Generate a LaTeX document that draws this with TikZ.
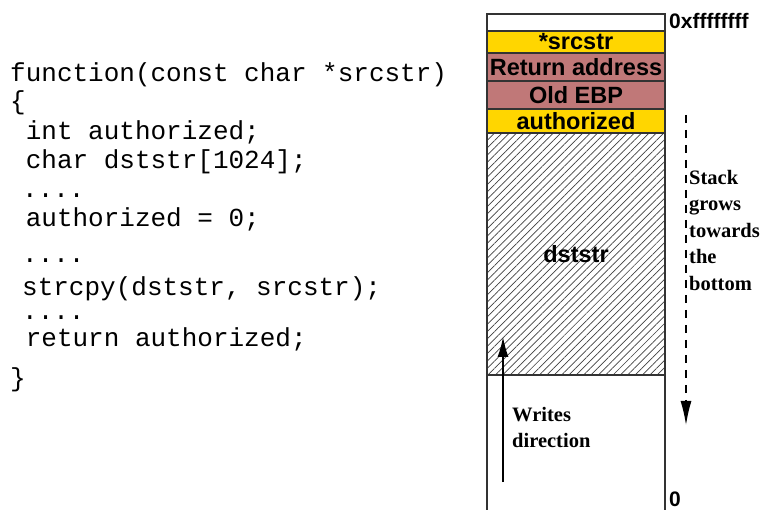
\documentclass[tikz,border=0pt]{standalone}
\usepackage{fontspec}
\setmainfont{Liberation Serif}
\setsansfont{Liberation Sans}
\setmonofont{Liberation Mono}
\usepackage{xcolor}
\usetikzlibrary{positioning}
\usetikzlibrary{arrows.meta,patterns.meta}
\definecolor{slotgold}{RGB}{255,214,0}
\definecolor{slotrose}{RGB}{192,120,120}

\begin{document}
\begin{tikzpicture}[x=1pt,y=-1pt,node distance=0pt,
  slot/.style={draw=black!80,line width=1.2pt,minimum width=178pt,inner sep=0pt,outer sep=0pt,
    font=\fontsize{23.5}{26}\selectfont\sffamily\bfseries},
  code/.style={anchor=base west,inner sep=0pt,font=\fontsize{26}{30}\selectfont\ttfamily},
  note/.style={align=left,anchor=north west,inner sep=0pt,font=\fontsize{20.5}{26.5}\selectfont\rmfamily\bfseries},
  addr/.style={anchor=base west,inner sep=0pt,font=\fontsize{21}{24}\selectfont\sffamily\bfseries},
  side/.style={draw=black!80,line width=1.2pt}]
  \useasboundingbox (0,0) rectangle (763,510);
  % the source code
  \node[code] (fn)   at (10,82)    {function(const char *srcstr)};
  \node[code] (open) at (10,110)   {\{};
  \node[code] (decl) at (25.6,140) {int authorized;};
  \node[code] (buf)  at (25.6,169) {char dststr[1024];};
  \node[code] (dotA) at (22,198)   {....};
  \node[code] (init) at (25.6,227) {authorized = 0;};
  \node[code] (dotB) at (22,263)   {....};
  \node[code] (copy) at (22,296)   {strcpy(dststr, srcstr);};
  \node[code] (dotC) at (22,320)   {....};
  \node[code] (ret)  at (25.6,347) {return authorized;};
  \node[code] (shut) at (10,387)   {\}};
  % the stack
  \node[slot,minimum height=17pt,anchor=north] (top) at (576,14) {};
  \node[slot,minimum height=22pt,fill=slotgold] (src) [below=of top] {*srcstr};
  \node[slot,minimum height=28pt,fill=slotrose] (raddr) [below=of src] {Return address};
  \node[slot,minimum height=28pt,fill=slotrose] (ebp) [below=of raddr] {Old EBP};
  \node[slot,minimum height=24pt,fill=slotgold] (auth) [below=of ebp] {authorized};
  \node[slot,minimum height=242pt,pattern={Lines[angle=45,distance=5.2pt,line width=0.7pt]},
    pattern color=black!75] (dst) [below=of auth] {dststr};
  \node[slot,draw=none,minimum height=135pt] (low) [below=of dst] {};
  \draw[side] (low.north west) -- (low.south west);
  \draw[side] (low.north east) -- (low.south east);
  \node[addr] (hi) at (669,29) {0xffffffff};
  \node[addr] (zero) at (669,506) {0};
  % directions
  \coordinate (grow0) at (686,115);
  \coordinate (grow1) at (686,425);
  \draw[line width=1.3pt,dash pattern=on 8pt off 7pt,-{Latex[length=24pt,width=11pt]}] (grow0) -- (grow1);
  \node[note] (grows) at (689,170) {Stack\\grows\\towards\\the\\bottom};
  \coordinate (wr0) at (503,482);
  \coordinate (wr1) at (503,337);
  \draw[line width=1.3pt,-{Latex[length=20pt,width=11pt]}] (wr0) -- (wr1);
  \node[note] (writes) at (512,407) {Writes\\direction};
\end{tikzpicture}
\end{document}
